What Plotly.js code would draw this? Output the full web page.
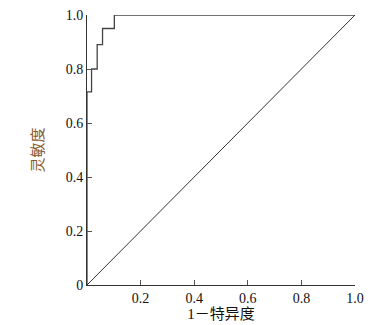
<!DOCTYPE html>
<html><head><meta charset="utf-8">
<script src="https://cdn.plot.ly/plotly-3.0.1.min.js"></script>
<style>body{margin:0;background:#fff}</style>
</head><body>
<div id="chart" style="width:381px;height:325px"></div>
<script>
const rocFpr = [0, 0, 0.017, 0.017, 0.038, 0.038, 0.058, 0.058, 0.102, 0.102, 1.0];
const rocTpr = [0, 0.715, 0.715, 0.80, 0.80, 0.89, 0.89, 0.95, 0.95, 1.0, 1.0];
const refX = [0, 1];
const refY = [0, 1];
const xTickVals = [0.2, 0.4, 0.6, 0.8, 1.0];
const xTickText = ['0.2', '0.4', '0.6', '0.8', '1.0'];
const yTickVals = [0, 0.2, 0.4, 0.6, 0.8, 1.0];
const yTickText = ['0', '0.2', '0.4', '0.6', '0.8', '1.0'];

const font = 'Liberation Serif, Times New Roman, Noto Sans CJK SC, serif';
const data = [
  {x: rocFpr, y: rocTpr, mode: 'lines', line: {color: '#444', width: 1.3}, hoverinfo: 'none'},
  {x: refX, y: refY, mode: 'lines', line: {color: '#333', width: 1}, hoverinfo: 'none'}
];
const layout = {
  width: 381, height: 325,
  margin: {l: 87, r: 26, t: 15, b: 40},
  showlegend: false,
  paper_bgcolor: '#fff', plot_bgcolor: '#fff',
  font: {family: font, size: 14, color: '#111'},
  xaxis: {
    range: [0, 1], tickvals: xTickVals, ticktext: xTickText,
    ticks: 'inside', ticklen: 5, tickcolor: '#555', tickwidth: 1,
    showline: true, linecolor: '#333', linewidth: 1, showgrid: false, zeroline: false,
    tickfont: {family: font, size: 14, color: '#111'},
    title: {text: '1－特异度', font: {family: font, size: 15, color: '#111'}, standoff: 2}
  },
  yaxis: {
    range: [0, 1], tickvals: yTickVals, ticktext: yTickText,
    ticks: 'inside', ticklen: 5, tickcolor: '#555', tickwidth: 1,
    showline: true, linecolor: '#333', linewidth: 1, showgrid: false, zeroline: false,
    tickfont: {family: font, size: 14, color: '#111'},
    title: {text: '灵敏度', font: {family: font, size: 15, color: '#8B5A2B'}, standoff: 18}
  }
};
Plotly.newPlot('chart', data, layout, {displayModeBar: false, staticPlot: true});
</script>
</body></html>
